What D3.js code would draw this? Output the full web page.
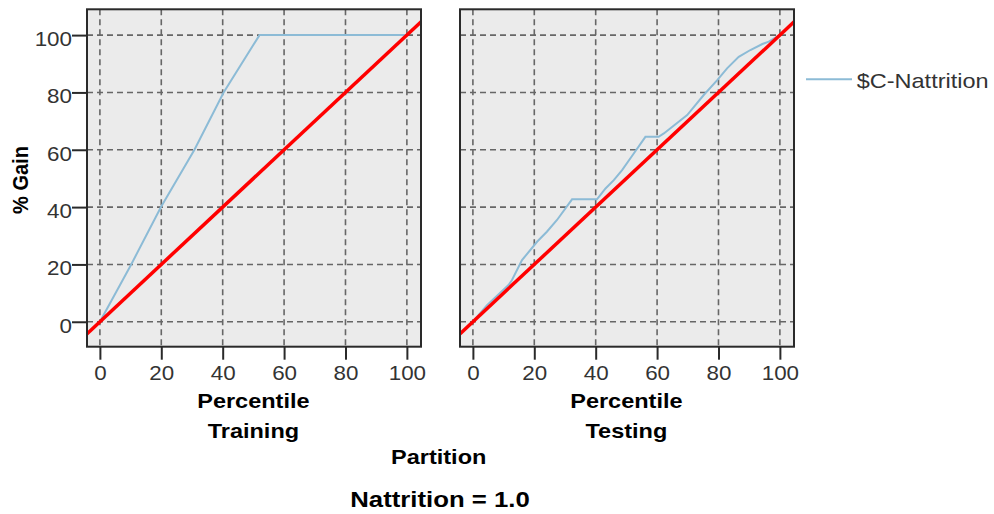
<!DOCTYPE html>
<html>
<head>
<meta charset="utf-8">
<script src="https://cdn.jsdelivr.net/npm/d3@7"></script>
<style>
  body { margin: 0; background: #fff; }
  text { font-family: "Liberation Sans", Arial, sans-serif; }
</style>
</head>
<body>
<svg id="chart" width="994" height="514"></svg>
<script>
// data
const partitions = ["Training", "Testing"];
const xTicks = [0, 20, 40, 60, 80, 100];
const yTicks = [0, 20, 40, 60, 80, 100];
const trainPct = [0, 10.2, 19.9, 30.8, 40.3, 52, 100];
const trainGain = [0, 20, 40, 60, 80, 100, 100];
const testPct = [0, 4.6, 11.6, 12.7, 16, 20.9, 24.1, 27.4, 32.3, 40.4, 41.5, 43.2, 45.9, 48.6, 52.4, 56.2, 60.5, 62.2, 69.8, 75.2, 79.6, 82.8, 86.6, 90.4, 94.3, 96.4, 98, 100];
const testGain = [0, 5.8, 12.8, 14.5, 21.5, 27.9, 31.4, 35.5, 42.7, 42.7, 44.2, 46.5, 49.4, 52.9, 58.7, 64.5, 64.5, 65.7, 72.1, 79.1, 84.3, 88.4, 92.4, 94.8, 96.9, 97.7, 98.8, 100];
const baseline = [-5, 105]; // diagonal reference, y = x
const seriesName = "$C-Nattrition";

const SX = 1.12; // text in the picture is a bit wide
const blue = "#8cbbd6";
const svg = d3.select("#chart");

const panelW = 334, plotTop = 9.3, plotBottom = 346.7;
const panelX = [87, 460];
const y = d3.scaleLinear().domain([-8.7, 109]).range([plotBottom, plotTop]);

function label(x, yy, txt, size, bold, anchor, rot) {
  return svg.append("text")
    .attr("transform", `translate(${x},${yy}) scale(${SX},1)` + (rot ? ` rotate(${rot})` : ""))
    .attr("text-anchor", anchor || "middle")
    .style("font-size", size + "px")
    .style("font-weight", bold ? "bold" : "normal")
    .attr("fill", bold ? "#000" : "#333")
    .text(txt);
}

const series = [
  { pct: trainPct, gain: trainGain },
  { pct: testPct, gain: testGain }
];

partitions.forEach((p, i) => {
  const x = d3.scaleLinear().domain([-4.2, 104.6]).range([panelX[i], panelX[i] + panelW]);
  const g = svg.append("g");

  g.append("clipPath").attr("id", "clip" + i)
    .append("rect").attr("x", panelX[i]).attr("y", plotTop).attr("width", panelW).attr("height", plotBottom - plotTop);

  g.append("rect")
    .attr("x", panelX[i]).attr("y", plotTop)
    .attr("width", panelW).attr("height", plotBottom - plotTop)
    .attr("fill", "#ebebeb");

  // grid
  g.selectAll(".vg").data(xTicks).enter().append("line")
    .attr("x1", d => x(d)).attr("x2", d => x(d))
    .attr("y1", plotTop).attr("y2", plotBottom)
    .attr("stroke", "#666").attr("stroke-width", 1.6).attr("stroke-dasharray", "6,4");
  g.selectAll(".hg").data(yTicks).enter().append("line")
    .attr("x1", panelX[i]).attr("x2", panelX[i] + panelW)
    .attr("y1", d => y(d)).attr("y2", d => y(d))
    .attr("stroke", "#666").attr("stroke-width", 1.6).attr("stroke-dasharray", "6,4");

  const plot = g.append("g").attr("clip-path", `url(#clip${i})`);
  const line = d3.line().x(d => x(d[0])).y(d => y(d[1]));

  plot.append("path")
    .datum(series[i].pct.map((v, k) => [v, series[i].gain[k]]))
    .attr("d", line)
    .attr("fill", "none").attr("stroke", blue).attr("stroke-width", 2);

  plot.append("path")
    .datum(baseline.map(v => [v, v]))
    .attr("d", line)
    .attr("fill", "none").attr("stroke", "#ff0000").attr("stroke-width", 3.5);

  g.append("rect")
    .attr("x", panelX[i]).attr("y", plotTop)
    .attr("width", panelW).attr("height", plotBottom - plotTop)
    .attr("fill", "none").attr("stroke", "#2a2a2a").attr("stroke-width", 2);

  // x axis
  const ax = g.append("g").attr("transform", `translate(0,${plotBottom})`)
    .call(d3.axisBottom(x).tickValues(xTicks).tickSize(13).tickPadding(6).tickFormat(d3.format("d")));
  ax.select(".domain").remove();
  ax.selectAll("line").attr("stroke", "#2a2a2a").attr("stroke-width", 2);
  ax.selectAll("text")
    .attr("transform", `scale(${SX},1)`)
    .style("font-size", "20px").style("font-family", '"Liberation Sans", Arial, sans-serif')
    .attr("fill", "#333");

  const cx = (x(0) + x(100)) / 2;
  label(cx, 408.3, "Percentile", 21, true);
  label(cx, 437.5, p, 21, true);

  if (i === 0) {
    const ay = g.append("g").attr("transform", `translate(${panelX[i]},0)`)
      .call(d3.axisLeft(y).tickValues(yTicks).tickSize(15).tickPadding(0).tickFormat(d3.format("d")));
    ay.select(".domain").remove();
    ay.selectAll("line").attr("stroke", "#2a2a2a").attr("stroke-width", 2);
    ay.selectAll("text")
      .attr("transform", `scale(${SX},1)`)
      .attr("x", -15 / SX)
      .attr("dy", "0.52em")
      .style("font-size", "20px").style("font-family", '"Liberation Sans", Arial, sans-serif')
      .attr("fill", "#333");
  }
});

label(28, 180, "% Gain", 20, true, "middle", -90);
label(438.7, 464, "Partition", 21, true);
label(440, 507.3, "Nattrition = 1.0", 23, true);

// legend
svg.append("line")
  .attr("x1", 806).attr("x2", 852).attr("y1", 79.3).attr("y2", 79.3)
  .attr("stroke", blue).attr("stroke-width", 2);
label(856.7, 87.5, seriesName, 21, false, "start");
</script>
</body>
</html>
